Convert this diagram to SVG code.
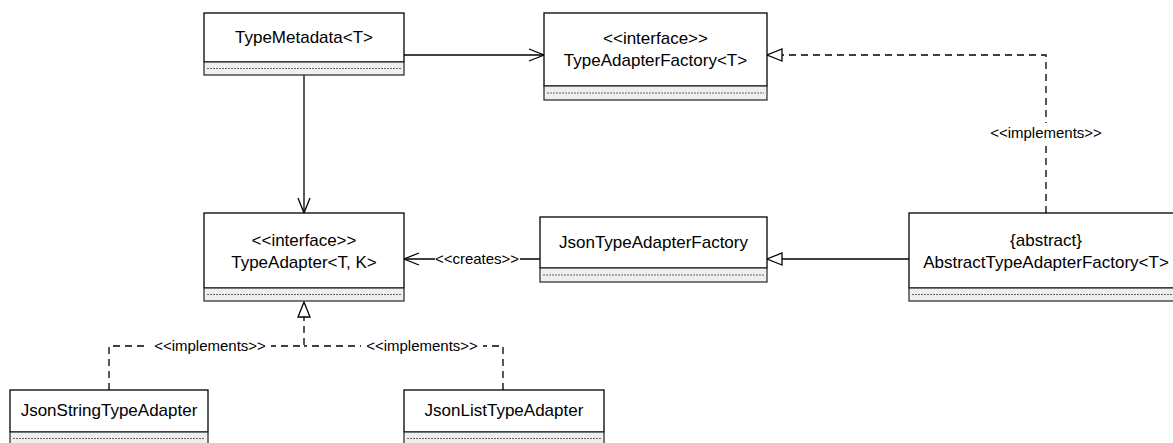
<svg xmlns="http://www.w3.org/2000/svg" width="1173" height="443" viewBox="0 0 1173 443">
<style>
.box{fill:#fff;stroke:#000;stroke-width:1.3}
.comp{fill:#efefef;stroke:#333;stroke-width:1.3}
.dots{stroke:#444;stroke-width:0.8;stroke-dasharray:2,1}
.name{font-family:"Liberation Sans",Arial,sans-serif;font-size:17px;fill:#000;text-anchor:middle}
.lbl{font-family:"Liberation Sans",Arial,sans-serif;font-size:15px;fill:#000;text-anchor:middle}
.ln{fill:none;stroke:#000;stroke-width:1.3}
.dash{fill:none;stroke:#000;stroke-width:1.3;stroke-dasharray:7,5}
.bg{fill:#fff}
</style>
<defs>
<marker id="open" markerWidth="18" markerHeight="14" refX="16" refY="7" orient="auto" markerUnits="userSpaceOnUse">
<path d="M1,1 L16,7 L1,13" fill="none" stroke="#000" stroke-width="1.3"/>
</marker>
<marker id="tri" markerWidth="18" markerHeight="14" refX="16" refY="7" orient="auto" markerUnits="userSpaceOnUse">
<path d="M1,1 L16,7 L1,13 Z" fill="#fff" stroke="#000" stroke-width="1.3"/>
</marker>
</defs>
<g id="connectors">
<path class="ln" d="M404,55 L544,55" marker-end="url(#open)"/>
<path class="dash" d="M1046,213 L1046,55 L767,55" marker-end="url(#tri)"/>
<rect class="bg" x="983" y="123" width="126" height="20"/>
<text class="lbl" x="1046" y="138">&lt;&lt;implements&gt;&gt;</text>
<path class="ln" d="M304,75 L304,213" marker-end="url(#open)"/>
<path class="ln" d="M540,259 L404,259" marker-end="url(#open)"/>
<rect class="bg" x="435" y="250" width="85" height="18"/>
<text class="lbl" x="477" y="264">&lt;&lt;creates&gt;&gt;</text>
<path class="ln" d="M909,259 L767,259" marker-end="url(#tri)"/>
<path class="dash" d="M109,390 L109,346 L304,346 L304,302" marker-end="url(#tri)"/>
<path class="dash" d="M503,390 L503,346 L304,346"/>
<rect class="bg" x="149" y="337" width="122" height="18"/>
<text class="lbl" x="210" y="351">&lt;&lt;implements&gt;&gt;</text>
<rect class="bg" x="361" y="337" width="122" height="18"/>
<text class="lbl" x="422" y="351">&lt;&lt;implements&gt;&gt;</text>
</g>
<g id="TypeMetadata">
<rect class="box" x="204" y="13" width="200" height="49"/>
<rect class="comp" x="204" y="62" width="200" height="13"/>
<line class="dots" x1="207" y1="68.5" x2="401" y2="68.5"/>
<text class="name" x="304" y="43">TypeMetadata&lt;T&gt;</text>
</g>
<g id="TypeAdapterFactory">
<rect class="box" x="544" y="13" width="223" height="73"/>
<rect class="comp" x="544" y="86" width="223" height="14"/>
<line class="dots" x1="547" y1="93" x2="764" y2="93"/>
<text class="name" x="655.5" y="44">&lt;&lt;interface&gt;&gt;</text>
<text class="name" x="655.5" y="66">TypeAdapterFactory&lt;T&gt;</text>
</g>
<g id="TypeAdapter">
<rect class="box" x="204" y="213" width="200" height="75"/>
<rect class="comp" x="204" y="288" width="200" height="13"/>
<line class="dots" x1="207" y1="294.5" x2="401" y2="294.5"/>
<text class="name" x="304" y="246">&lt;&lt;interface&gt;&gt;</text>
<text class="name" x="304" y="268">TypeAdapter&lt;T, K&gt;</text>
</g>
<g id="JsonTypeAdapterFactory">
<rect class="box" x="540" y="217" width="227" height="51"/>
<rect class="comp" x="540" y="268" width="227" height="14"/>
<line class="dots" x1="543" y1="275" x2="764" y2="275"/>
<text class="name" x="653.5" y="248">JsonTypeAdapterFactory</text>
</g>
<g id="AbstractTypeAdapterFactory">
<rect class="box" x="909" y="213" width="274" height="75"/>
<rect class="comp" x="909" y="288" width="274" height="13"/>
<line class="dots" x1="912" y1="294.5" x2="1180" y2="294.5"/>
<text class="name" x="1046" y="246">{abstract}</text>
<text class="name" x="1046" y="268">AbstractTypeAdapterFactory&lt;T&gt;</text>
</g>
<g id="JsonStringTypeAdapter">
<rect class="box" x="10" y="390" width="198" height="42"/>
<rect class="comp" x="10" y="432" width="198" height="14"/>
<line class="dots" x1="13" y1="438.5" x2="205" y2="438.5"/>
<text class="name" x="109" y="416">JsonStringTypeAdapter</text>
</g>
<g id="JsonListTypeAdapter">
<rect class="box" x="404" y="390" width="200" height="42"/>
<rect class="comp" x="404" y="432" width="200" height="14"/>
<line class="dots" x1="407" y1="438.5" x2="601" y2="438.5"/>
<text class="name" x="504" y="416">JsonListTypeAdapter</text>
</g>
</svg>
